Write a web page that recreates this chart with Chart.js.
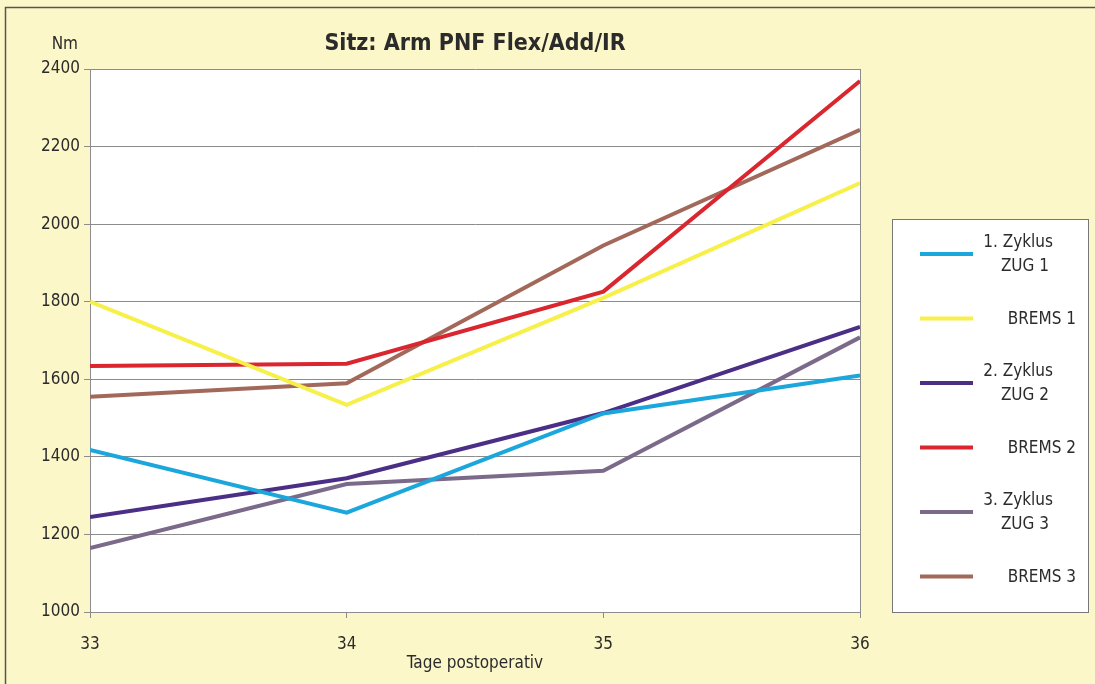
<!DOCTYPE html>
<html lang="de">
<head>
  <meta charset="UTF-8">
  <title>Sitz: Arm PNF Flex/Add/IR</title>
  <script src="https://cdn.jsdelivr.net/npm/chart.js"></script>
  <style>
    html, body {
      margin: 0;
      padding: 0;
      background-color: #fcf7c8;
    }
    #wrap {
      width: 1095px;
      height: 684px;
      position: relative;
    }
  </style>
</head>
<body>
  <div id="wrap"><canvas id="chart" width="1095" height="684"></canvas></div>

  <script>
    // Werte
    const days = [33, 34, 35, 36];
    const zug1 = [1418, 1256, 1512, 1610];
    const brems1 = [1800, 1534, 1810, 2106];
    const zug2 = [1245, 1345, 1513, 1735];
    const brems2 = [1634, 1640, 1826, 2369];
    const zug3 = [1165, 1330, 1364, 1708];
    const brems3 = [1555, 1590, 1945, 2243];

    const seriesLabels = [
      ['1. Zyklus', 'ZUG 1'],
      ['BREMS 1'],
      ['2. Zyklus', 'ZUG 2'],
      ['BREMS 2'],
      ['3. Zyklus', 'ZUG 3'],
      ['BREMS 3']
    ];
    const yTicks = [1000, 1200, 1400, 1600, 1800, 2000, 2200, 2400];

    const FONT = "'Liberation Sans Narrow', 'DejaVu Sans Condensed', 'Arial Narrow', sans-serif";
    const TEXT = '#2b2b2b';
    const GRID = '#8c8c8c';

    const colors = ['#1ba6dc', '#f7f04a', '#4b2e85', '#d9262f', '#7b6a8a', '#a2695b'];
    const allSeries = [zug1, brems1, zug2, brems2, zug3, brems3];

    const datasets = allSeries.map((vals, i) => ({
      label: seriesLabels[i].join(' '),
      data: days.map((d, j) => ({ x: d, y: vals[j] })),
      borderColor: colors[i],
      backgroundColor: colors[i],
      borderWidth: 4,
      pointRadius: 0,
      tension: 0,
      fill: false
    }));

    // Hintergrund, Rahmen, Titel, "Nm" und Legende
    const decor = {
      id: 'decor',
      beforeDraw(chart) {
        const ctx = chart.ctx;
        const a = chart.chartArea;
        ctx.save();
        ctx.fillStyle = '#ffffff';
        ctx.fillRect(a.left, a.top, a.right - a.left, a.bottom - a.top);
        ctx.restore();
      },
      afterDraw(chart) {
        const ctx = chart.ctx;
        ctx.save();
        // äußerer Rahmen
        ctx.strokeStyle = '#555';
        ctx.lineWidth = 1.5;
        ctx.beginPath();
        ctx.moveTo(5.5, 700);
        ctx.lineTo(5.5, 7.5);
        ctx.lineTo(1100, 7.5);
        ctx.stroke();

        // Titel
        ctx.fillStyle = TEXT;
        ctx.font = 'bold 23px ' + FONT;
        ctx.textAlign = 'center';
        ctx.textBaseline = 'middle';
        ctx.fillText('Sitz: Arm PNF Flex/Add/IR', 475, 44);

        // Einheit
        ctx.font = '17px ' + FONT;
        ctx.textAlign = 'right';
        ctx.fillText('Nm', 78, 45);

        // Legende
        const lx = 892.5, ly = 219.5, lw = 196, lh = 393;
        ctx.fillStyle = '#ffffff';
        ctx.fillRect(lx, ly, lw, lh);
        ctx.strokeStyle = '#777';
        ctx.lineWidth = 1;
        ctx.strokeRect(lx, ly, lw, lh);

        chart.data.datasets.forEach((ds, i) => {
          const y = 254 + i * 64.5;
          ctx.strokeStyle = ds.borderColor;
          ctx.lineWidth = 4;
          ctx.beginPath();
          ctx.moveTo(920, y);
          ctx.lineTo(973, y);
          ctx.stroke();

          ctx.fillStyle = TEXT;
          ctx.font = '17px ' + FONT;
          const lines = seriesLabels[i];
          ctx.textAlign = 'right';
          if (lines.length === 1) {
            ctx.fillText(lines[0], 1076, y + 1);
          } else {
            ctx.fillText(lines[0], 1053, y - 11);
            ctx.fillText(lines[1], 1049, y + 13);
          }
        });
        ctx.restore();
      }
    };

    new Chart(document.getElementById('chart'), {
      type: 'line',
      data: { datasets },
      plugins: [decor],
      options: {
        responsive: false,
        animation: false,
        layout: { padding: { top: 69, right: 235, bottom: 0, left: 0 } },
        plugins: {
          legend: { display: false },
          tooltip: { enabled: false },
          title: { display: false }
        },
        scales: {
          x: {
            type: 'linear',
            min: 33,
            max: 36,
            afterFit(scale) { scale.height = 72; },
            afterBuildTicks(scale) { scale.ticks = days.map(v => ({ value: v })); },
            border: { display: true, color: GRID, width: 1 },
            grid: {
              color: c => (c.tick && (c.tick.value === 33 || c.tick.value === 36)) ? GRID : 'rgba(0,0,0,0)',
              tickColor: GRID,
              tickLength: 6,
              lineWidth: 1
            },
            ticks: {
              color: TEXT,
              font: { family: FONT, size: 17 },
              padding: 16,
              maxRotation: 0,
              callback: v => String(v)
            },
            title: {
              display: true,
              text: 'Tage postoperativ',
              color: TEXT,
              font: { family: FONT, size: 17 },
              padding: { top: 0, bottom: 10 }
            }
          },
          y: {
            min: 1000,
            max: 2400,
            afterFit(scale) { scale.width = 90; },
            afterBuildTicks(scale) { scale.ticks = yTicks.map(v => ({ value: v })); },
            border: { display: true, color: GRID, width: 1 },
            grid: {
              color: GRID,
              tickColor: GRID,
              tickLength: 6,
              lineWidth: 1
            },
            ticks: {
              color: TEXT,
              font: { family: FONT, size: 17 },
              padding: 4,
              callback: v => String(v)
            }
          }
        }
      }
    });
  </script>
</body>
</html>
